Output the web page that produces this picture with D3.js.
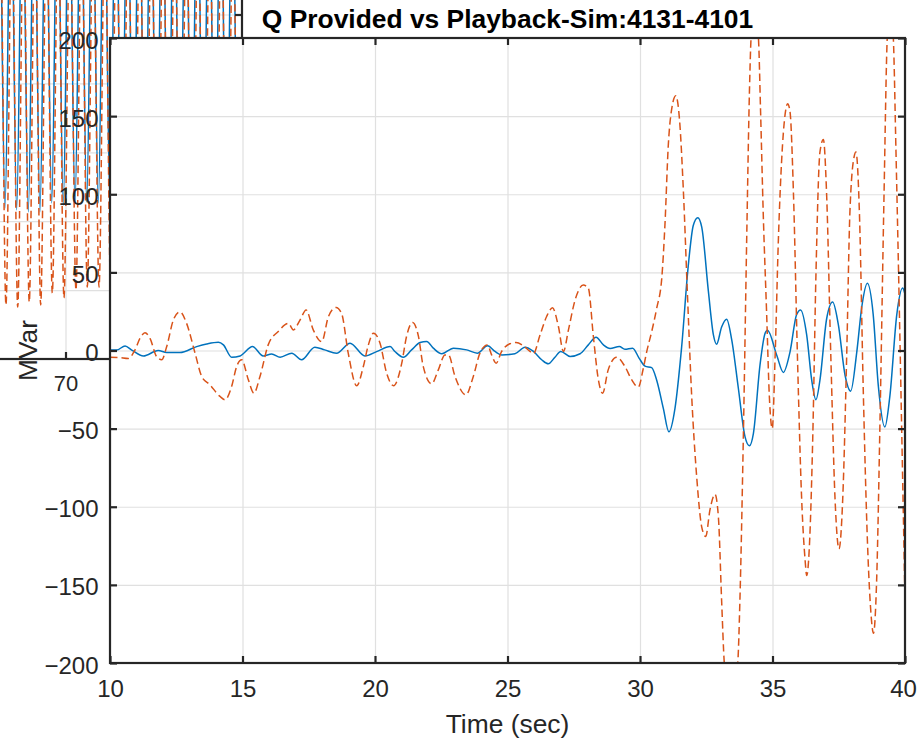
<!DOCTYPE html>
<html>
<head>
<meta charset="utf-8">
<script src="https://cdn.jsdelivr.net/npm/d3@7"></script>
<style>
  html, body { margin: 0; padding: 0; background: #fff; }
  svg { display: block; font-family: "Liberation Sans", Arial, Helvetica, sans-serif; }
</style>
</head>
<body>
<svg id="chart" width="917" height="741"></svg>
<script>
// ---------------- data ----------------
// Reactive power, MVar, against time in seconds.
const qProvided = [
  [10.0,0.3],[10.25,0.3],[10.57,2.9],[10.82,0.3],[11.26,-3.5],[11.82,0],[12.14,-1.3],[12.64,-1.3],
  [13.27,2.5],[13.65,4.2],[14.09,5.3],[14.28,3.6],[14.59,-4.3],[14.91,-3.5],[15.38,2.5],[15.78,-3.5],
  [16.10,-2.2],[16.42,-4.3],[16.86,-1.7],[17.23,-5.9],[17.73,2.1],[18.10,0.4],[18.55,-1.7],[19.06,4.7],
  [19.62,-3.5],[20.06,-0.7],[20.57,2.5],[20.75,-0.6],[21.07,-4.3],[21.38,0.4],[21.70,5.1],[21.95,5.8],
  [22.20,1.5],[22.52,-2.1],[22.96,1.5],[23.46,0.4],[23.86,-1.7],[24.25,3.0],[24.53,-0.6],[24.78,-2.8],
  [25.28,-2.1],[25.66,2.1],[25.98,-0.6],[26.29,-5.9],[26.54,-8.5],[26.79,-4.3],[27.01,-0.6],[27.36,-3.8],
  [27.74,-2.1],[28.05,3.6],[28.34,8.5],[28.62,3.6],[28.87,1.3],[29.22,2.5],[29.43,0.8],[29.72,1.5],
  [29.97,-5],[30.19,-10],[30.44,-11],[30.63,-19],[30.88,-37],[31.09,-52],[31.32,-37],[31.57,2],
  [31.82,54],[32.01,80],[32.18,85],[32.33,79],[32.58,38],[32.77,10],[32.89,4],[33.08,15],
  [33.27,20],[33.46,7],[33.71,-24],[33.96,-55],[34.13,-61],[34.28,-53],[34.53,-9],[34.72,11],
  [34.81,13],[35.16,-3],[35.41,-14],[35.66,-1],[35.91,23],[36.06,26],[36.29,10],[36.48,-19],
  [36.64,-31.5],[36.79,-19],[37.04,20],[37.27,31],[37.48,17],[37.74,-16],[37.95,-26],[38.18,-1],
  [38.37,28],[38.58,43],[38.80,23],[38.99,-22],[39.24,-49],[39.43,-29],[39.69,23],[39.91,40],[40.0,36]
];

const qPlayback = [
  [10.0,-4.3],[10.35,-4.5],[10.69,-5.1],[10.94,0.3],[11.13,7.7],[11.32,11.4],[11.51,7.7],[11.76,-3.9],
  [11.95,-5.9],[12.14,2.5],[12.39,19.5],[12.64,24.8],[12.89,17.4],[13.21,-1.7],[13.46,-16.6],[13.77,-21.9],
  [14.15,-29.4],[14.34,-31.5],[14.59,-23],[14.78,-10.2],[14.97,-5.9],[15.22,-18.7],[15.43,-27.3],[15.66,-16.6],
  [15.97,3.6],[16.35,12.2],[16.73,17.4],[16.92,13.2],[17.17,19.5],[17.40,25.9],[17.67,13.2],[17.99,5.7],
  [18.24,21.6],[18.53,27.6],[18.74,23.7],[18.99,-1.7],[19.31,-22.6],[19.56,-10.2],[19.75,3.6],[19.94,11.1],
  [20.19,4.7],[20.44,-14.5],[20.70,-22.5],[21.01,-8.1],[21.19,9],[21.42,18],[21.64,9],[21.82,-10.2],
  [22.14,-21.3],[22.39,-12.4],[22.64,-2.8],[22.77,-2.8],[23.02,-16.6],[23.43,-28.4],[23.71,-16.6],[23.96,-1.7],
  [24.24,3.6],[24.40,-2.8],[24.57,-8.1],[24.78,-0.6],[25.09,4.3],[25.32,5.1],[25.60,3.0],[25.85,-0.6],
  [25.97,-2.1],[26.23,10],[26.48,21.9],[26.70,27.3],[26.92,15.5],[27.11,-0.6],[27.30,13.2],[27.55,32.3],
  [27.86,41.9],[28.05,39.8],[28.24,9],[28.43,-18.8],[28.59,-27.3],[28.80,-12.4],[29.12,-4.3],[29.43,-10.2],
  [29.69,-18.8],[29.93,-23.5],[30.13,-11],[30.25,-1],[30.44,12],[30.63,27],[30.82,46],[30.94,80],
  [31.07,132],[31.20,155],[31.35,163],[31.49,148],[31.64,101],[31.79,36],[31.95,-29],[32.14,-81],
  [32.33,-113],[32.48,-119],[32.64,-102],[32.83,-92],[32.96,-107],[33.08,-160],[33.18,-200],[33.43,-232],
  [33.69,-200],[33.77,-160],[33.90,-55],[34.03,75],[34.13,166],[34.19,200],[34.32,222],[34.47,200],
  [34.55,153],[34.65,88],[34.78,23],[34.88,-29],[34.99,-50],[35.10,-3],[35.22,70],[35.38,132],
  [35.51,155],[35.57,158],[35.66,153],[35.79,101],[35.94,-3],[36.10,-95],[36.23,-134],[36.29,-144],
  [36.39,-126],[36.52,-55],[36.64,49],[36.79,127],[36.92,135],[37.04,101],[37.20,-3],[37.36,-95],
  [37.51,-127],[37.65,-95],[37.80,-3],[37.92,88],[38.08,124],[38.15,127],[38.28,88],[38.43,-29],
  [38.58,-121],[38.71,-167],[38.81,-181],[38.93,-147],[39.06,-42],[39.21,101],[39.33,200],[39.45,222],
  [39.56,200],[39.66,127],[39.79,23],[39.91,-81],[40.0,-160]
];

const xTicks = [10, 15, 20, 25, 30, 35, 40];
const yTicks = [-200, -150, -100, -50, 0, 50, 100, 150, 200];

const titleText = "Q Provided vs Playback-Sim:4131-4101";
const xLabelText = "Time (sec)";
const yLabelText = "MVar";

// A previous axes still in the figure, lying under the main one;
// only its upper-left corner is exposed.
const underProvided = [
  [63.86,110],[64.36,360],[64.86,109.6],[65.36,362],[65.85,108.1],[66.35,358],[66.84,106.7],[67.34,361],
  [67.83,106.7],[68.33,359],[68.83,113.2],[69.32,362],[69.81,111.8],[70.31,360],[70.81,112.5],[71.31,361],
  [71.80,113.9],[72.30,358],[72.79,113.2],[73.29,362],[73.78,112],[74.28,360],[74.77,111],[75.27,359],
  [75.76,113],[76.26,361],[76.75,112],[77.25,360],[77.74,110],[78.24,362],[78.73,111],[79.23,359],
  [79.72,112],[80.22,361],[80.71,113],[81.21,360],[81.70,111],[82.20,358],[82.69,112],[83.19,361],
  [83.68,110],[84.18,360],[84.67,112],[85.17,359]
];
const underPlayback = [
  [63.95,38],[64.45,326],[64.94,39.2],[65.44,328],[65.94,37.7],[66.43,325],[66.92,41.4],[67.41,327],
  [67.89,39.2],[68.39,324],[68.88,47.9],[69.38,327],[69.87,44.3],[70.38,326],[70.89,50.1],[71.37,328],
  [71.85,52.2],[72.35,325],[72.85,52.2],[73.35,327],[73.84,50],[74.34,326],[74.83,48],[75.33,328],
  [75.82,51],[76.32,325],[76.81,49],[77.31,327],[77.80,50],[78.30,326],[78.79,48],[79.29,328],
  [79.78,51],[80.28,325],[80.77,49],[81.27,327],[81.76,50],[82.26,326],[82.75,48],[83.25,328],
  [83.74,51],[84.24,325],[84.73,49],[85.23,327]
];
const underXTicks = [70];
const underYTicks = [0, 50, 100, 150, 200, 250, 300];

// ---------------- layout & styles ----------------
const BLUE = "#0072BD", ORANGE = "#D95319", AXIS = "#262626", GRID = "#e0e0e0";
const box = { left: 110, right: 905, top: 38, bottom: 663 };
const TICK_FONT = 24, LABEL_FONT = 26.4;

const svg = d3.select("#chart");
svg.append("rect").attr("width", 917).attr("height", 741).attr("fill", "#fff");

const defs = svg.append("defs");

// ---------- underlying axes ----------
const ub = { left: -111, right: 242, top: -54.4, bottom: 359 };
const ux = d3.scaleLinear().domain([55, 85]).range([ub.left, ub.right]);
const uy = d3.scaleLinear().domain([0, 300]).range([ub.bottom, ub.top]);

defs.append("clipPath").attr("id", "clipUnder")
  .append("rect").attr("x", ub.left).attr("y", ub.top)
  .attr("width", ub.right - ub.left).attr("height", ub.bottom - ub.top);

const under = svg.append("g");

under.append("g").attr("transform", `translate(0,${ub.bottom})`)
  .call(d3.axisBottom(ux).tickValues(underXTicks).tickSize(-(ub.bottom - ub.top)).tickFormat(""))
  .call(g => g.select(".domain").remove())
  .call(g => g.selectAll("line").attr("stroke", GRID).attr("stroke-width", 1.2));
under.append("g").attr("transform", `translate(${ub.left},0)`)
  .call(d3.axisLeft(uy).tickValues(underYTicks).tickSize(-(ub.right - ub.left)).tickFormat(""))
  .call(g => g.select(".domain").remove())
  .call(g => g.selectAll("line").attr("stroke", GRID).attr("stroke-width", 1.2));

const uLine = d3.line().x(d => ux(d[0])).y(d => uy(d[1])).curve(d3.curveMonotoneX);
const uLines = under.append("g").attr("clip-path", "url(#clipUnder)");
uLines.append("path").datum(underProvided).attr("d", uLine)
  .attr("fill", "none").attr("stroke", BLUE).attr("stroke-width", 1.5);
uLines.append("path").datum(underPlayback).attr("d", uLine)
  .attr("fill", "none").attr("stroke", ORANGE).attr("stroke-width", 1.5)
  .attr("stroke-dasharray", "7.5,4");

under.append("rect").attr("x", ub.left).attr("y", ub.top)
  .attr("width", ub.right - ub.left).attr("height", ub.bottom - ub.top)
  .attr("fill", "none").attr("stroke", AXIS).attr("stroke-width", 2.2);

const uxAxis = under.append("g").attr("transform", `translate(0,${ub.bottom})`)
  .call(d3.axisBottom(ux).tickValues(underXTicks).tickSize(-7).tickSizeOuter(0).tickPadding(16));
uxAxis.select(".domain").remove();
uxAxis.selectAll("line").attr("stroke", AXIS).attr("stroke-width", 2.2);
uxAxis.selectAll("text").attr("fill", AXIS).attr("font-size", 22)
  .attr("font-family", "Liberation Sans, Arial, sans-serif");

const uyAxis = under.append("g").attr("transform", `translate(${ub.right},0)`)
  .call(d3.axisRight(uy).tickValues(underYTicks).tickSize(-7).tickSizeOuter(0).tickFormat(""));
uyAxis.select(".domain").remove();
uyAxis.selectAll("line").attr("stroke", AXIS).attr("stroke-width", 2.2);

// ---------- main axes ----------
const x = d3.scaleLinear().domain([10, 40]).range([box.left, box.right]);
const y = d3.scaleLinear().domain([-200, 200]).range([box.bottom, box.top]);
const pw = box.right - box.left, ph = box.bottom - box.top;

svg.append("rect").attr("x", box.left).attr("y", box.top)
  .attr("width", pw).attr("height", ph).attr("fill", "#fff");

// grid
svg.append("g").attr("transform", `translate(0,${box.bottom})`)
  .call(d3.axisBottom(x).tickValues(xTicks).tickSize(-ph).tickFormat(""))
  .call(g => g.select(".domain").remove())
  .call(g => g.selectAll("line").attr("stroke", GRID).attr("stroke-width", 1.2));
svg.append("g").attr("transform", `translate(${box.left},0)`)
  .call(d3.axisLeft(y).tickValues(yTicks).tickSize(-pw).tickFormat(""))
  .call(g => g.select(".domain").remove())
  .call(g => g.selectAll("line").attr("stroke", GRID).attr("stroke-width", 1.2));

// series
defs.append("clipPath").attr("id", "clipMain")
  .append("rect").attr("x", box.left).attr("y", box.top).attr("width", pw).attr("height", ph);

const line = d3.line().x(d => x(d[0])).y(d => y(d[1])).curve(d3.curveMonotoneX);
const series = svg.append("g").attr("clip-path", "url(#clipMain)");
series.append("path").datum(qProvided).attr("d", line)
  .attr("fill", "none").attr("stroke", BLUE).attr("stroke-width", 1.5);
series.append("path").datum(qPlayback).attr("d", line)
  .attr("fill", "none").attr("stroke", ORANGE).attr("stroke-width", 1.5)
  .attr("stroke-dasharray", "7.5,4");

// box and ticks
svg.append("rect").attr("x", box.left).attr("y", box.top).attr("width", pw).attr("height", ph)
  .attr("fill", "none").attr("stroke", AXIS).attr("stroke-width", 2.2);

function styleAxis(g) {
  g.select(".domain").remove();
  g.selectAll("line").attr("stroke", AXIS).attr("stroke-width", 2.2);
  g.selectAll("text").attr("fill", AXIS).attr("font-size", TICK_FONT)
    .attr("font-family", "Liberation Sans, Arial, sans-serif");
}

svg.append("g").attr("transform", `translate(0,${box.bottom})`)
  .call(d3.axisBottom(x).tickValues(xTicks).tickSize(-7).tickSizeOuter(0).tickPadding(17))
  .call(styleAxis)
  // keep the last label inside the figure edge
  .call(g => g.selectAll(".tick").filter(d => d === 40).select("text").attr("dx", -2));
svg.append("g").attr("transform", `translate(0,${box.top})`)
  .call(d3.axisTop(x).tickValues(xTicks).tickSize(-7).tickSizeOuter(0).tickFormat(""))
  .call(styleAxis);
svg.append("g").attr("transform", `translate(${box.left},0)`)
  .call(d3.axisLeft(y).tickValues(yTicks).tickSize(-7).tickSizeOuter(0).tickPadding(11.5)
    .tickFormat(d3.format("d")))
  .call(styleAxis)
  .call(g => g.selectAll("text").attr("dy", "0.42em"));
svg.append("g").attr("transform", `translate(${box.right},0)`)
  .call(d3.axisRight(y).tickValues(yTicks).tickSize(-7).tickSizeOuter(0).tickFormat(""))
  .call(styleAxis);

// titles
svg.append("text").attr("x", (box.left + box.right) / 2).attr("y", 28)
  .attr("text-anchor", "middle").attr("font-size", LABEL_FONT).attr("font-weight", "bold")
  .attr("fill", "#000").text(titleText);

svg.append("text").attr("x", (box.left + box.right) / 2).attr("y", 733)
  .attr("text-anchor", "middle").attr("font-size", LABEL_FONT)
  .attr("fill", AXIS).text(xLabelText);

svg.append("text").attr("transform", `translate(37,${(box.top + box.bottom) / 2}) rotate(-90)`)
  .attr("text-anchor", "middle").attr("font-size", LABEL_FONT)
  .attr("fill", AXIS).text(yLabelText);
</script>
</body>
</html>
